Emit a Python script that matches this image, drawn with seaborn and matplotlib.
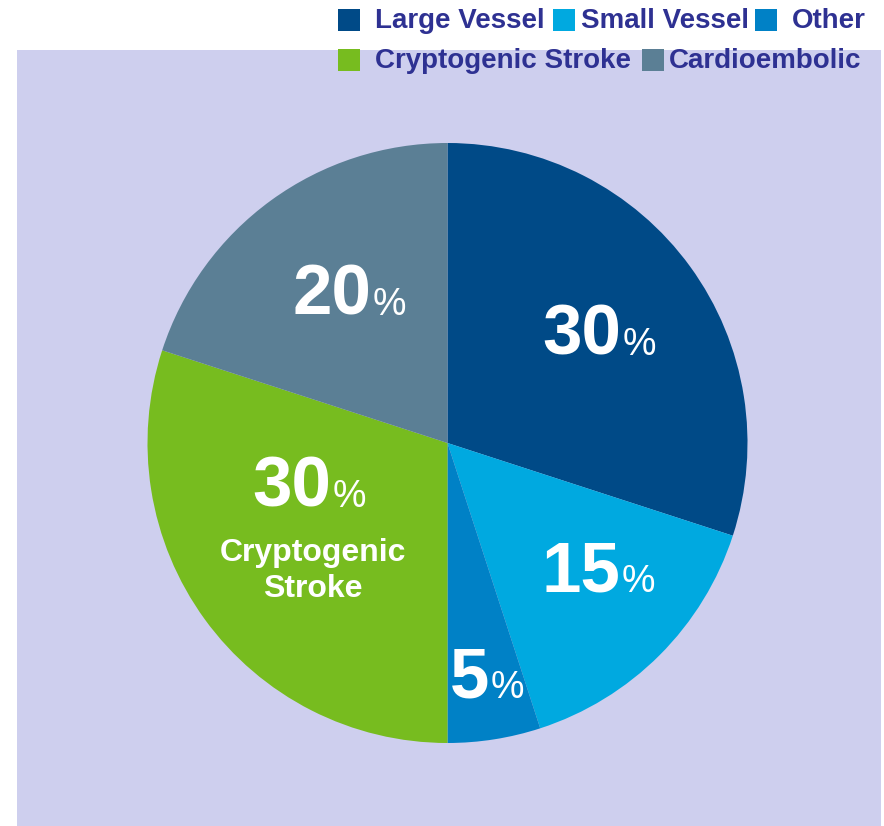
import matplotlib
matplotlib.use("Agg")
import matplotlib.pyplot as plt
from matplotlib.patches import Rectangle
import seaborn as sns

# ---- data ----
categories = ["Large Vessel", "Small Vessel", "Other", "Cryptogenic Stroke", "Cardioembolic"]
values = [30, 15, 5, 30, 20]
value_labels = ["30", "15", "5", "30", "20"]
inner_names = ["", "", "", "Cryptogenic\nStroke", ""]
colors = ["#004A87", "#00A9E0", "#0081C6", "#77BC1F", "#5B7F95"]

sns.set_theme(style="white")
plt.rcParams["font.family"] = ["Liberation Sans", "DejaVu Sans"]

W, H = 884, 826
fig = plt.figure(figsize=(W / 100, H / 100), dpi=100)
fig.patch.set_facecolor("white")

def fx(px):
    return px / W

def fy(py):
    return 1 - py / H

# lavender panel
bg = fig.add_axes([fx(17), fy(826), fx(881) - fx(17), fy(50) - fy(826)])
bg.set_facecolor("#CECFEE")
bg.set_xticks([]); bg.set_yticks([])
for s in bg.spines.values():
    s.set_visible(False)
bg.set_zorder(0)

# pie axes: center (447.5, 443), radius 300
cx, cy, r = 447.5, 443, 300
ax = fig.add_axes([fx(cx - r), fy(cy + r), 2 * r / W, 2 * r / H])
ax.set_zorder(1)
ax.patch.set_alpha(0)
pal = sns.color_palette(colors)
ax.pie(values, colors=pal, startangle=90, counterclock=False,
       wedgeprops=dict(linewidth=0))
ax.set_xlim(-1, 1); ax.set_ylim(-1, 1)
ax.set_aspect("equal")
ax.axis("off")

# label anchor points (split between number and % at baseline)
def d(px, py):
    return ((px - cx) / r, (cy - py) / r)

anchors = [d(621, 355), d(620, 592), d(489, 698), d(331, 507), d(371, 315)]
for lab, (x, y), nm in zip(value_labels, anchors, inner_names):
    ax.text(x, y, lab, ha="right", va="baseline", color="white",
            fontsize=51, fontweight="bold")
    ax.text(x + 0.005, y, "%", ha="left", va="baseline", color="white",
            fontsize=27)
    if nm:
        nx, ny = d(313, 571)
        ax.text(nx, ny, nm, ha="center", va="center", color="white",
                fontsize=23, fontweight="bold", linespacing=1.28)

# legend (manual placement)
text_color = "#2E3192"
leg_pos = [  # (square_x, text_x, row_y_top)
    (338, 375, 9), (553, 581, 9), (755, 792, 9),
    (338, 375, 49), (642, 669, 49),
]
for cat, col, (sx, tx, ty) in zip(categories, pal, leg_pos):
    fig.patches.append(Rectangle((fx(sx), fy(ty + 22)), 22 / W, 22 / H,
                                 transform=fig.transFigure, facecolor=col,
                                 edgecolor="none", zorder=3))
    fig.text(fx(tx), fy(ty + 19), cat, ha="left", va="baseline",
             fontsize=20, fontweight="bold", color=text_color, zorder=3)

fig.savefig("out.png", dpi=100)
